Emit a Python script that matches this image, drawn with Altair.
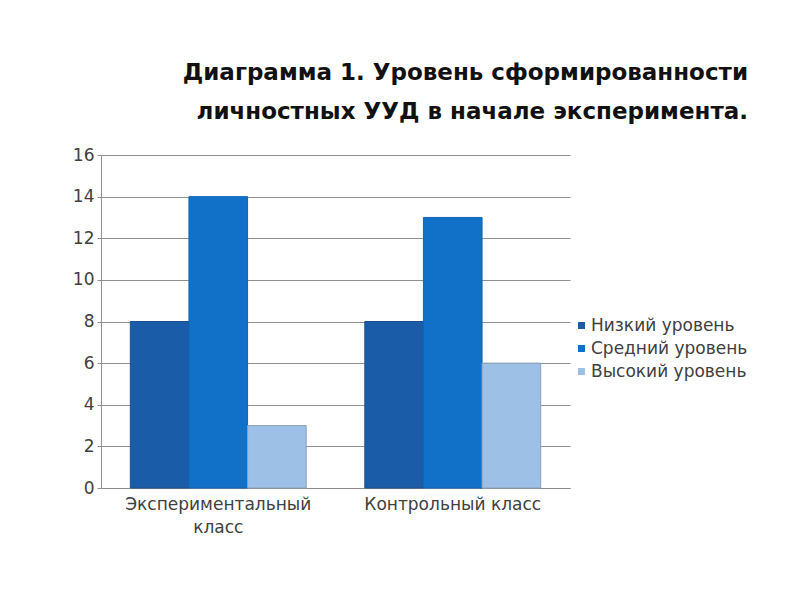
import altair as alt
import pandas as pd

categories = ["Экспериментальный класс", "Контрольный класс"]
series = ["Низкий уровень", "Средний уровень", "Высокий уровень"]
low = [8, 8]
mid = [14, 13]
high = [3, 6]
y_ticks = [0, 2, 4, 6, 8, 10, 12, 14, 16]
title_lines = ["Диаграмма 1. Уровень сформированности", "личностных УУД в начале эксперимента."]

colors = ["#1a5ca8", "#1170c8", "#9dc1e6"]
strokes = ["#1a5090", "#1165b5", "#8a9fb8"]

rows = []
for i, c in enumerate(categories):
    for s, vals in zip(series, [low, mid, high]):
        rows.append({"Класс": c, "Уровень": s, "Значение": vals[i]})
df = pd.DataFrame(rows)

font = "DejaVu Sans"

chart = alt.Chart(df).mark_bar(strokeWidth=1).encode(
    x=alt.X(
        "Класс:N",
        sort=categories,
        scale=alt.Scale(paddingInner=0.25, paddingOuter=0.125),
        axis=alt.Axis(
            title=None,
            labelAngle=0,
            labelFontSize=17,
            labelFont=font,
            labelColor="#404040",
            labelExpr="length(datum.label) > 20 ? split(datum.label, ' ') : datum.label",
            labelLineHeight=23,
            labelPadding=8,
            labelLimit=300,
            ticks=False,
            domainColor="#8c8c8c",
        ),
    ),
    xOffset=alt.XOffset("Уровень:N", sort=series),
    y=alt.Y(
        "Значение:Q",
        scale=alt.Scale(domain=[0, 16]),
        axis=alt.Axis(
            title=None,
            values=y_ticks,
            gridColor="#909090",
            tickColor="#909090",
            domainColor="#909090",
            tickSize=4,
            labelFontSize=17,
            labelFont=font,
            labelColor="#404040",
            labelPadding=3,
        ),
    ),
    color=alt.Color(
        "Уровень:N",
        sort=series,
        scale=alt.Scale(domain=series, range=colors),
        legend=alt.Legend(
            title=None,
            orient="none",
            legendX=472,
            legendY=162,
            padding=0,
            symbolType="square",
            symbolSize=49,
            symbolStrokeWidth=0,
            labelFontSize=17,
            labelFont=font,
            labelColor="#404040",
            labelOffset=1,
            labelLimit=300,
            rowPadding=5,
        ),
    ),
    stroke=alt.Stroke(
        "Уровень:N",
        sort=series,
        scale=alt.Scale(domain=series, range=strokes),
        legend=None,
    ),
).properties(
    width=469,
    height=333,
    background="white",
    autosize=alt.AutoSizeParams(type="none"),
    padding={"left": 93, "top": 147, "right": 222, "bottom": 104},
    title=alt.TitleParams(
        text=title_lines,
        anchor="end",
        frame="bounds",
        font=font,
        fontSize=23,
        fontWeight="bold",
        color="#111111",
        lineHeight=39,
        offset=22,
    ),
).configure_view(stroke=None)

chart.save("out.html", embed_options={"renderer": "svg", "actions": False})
